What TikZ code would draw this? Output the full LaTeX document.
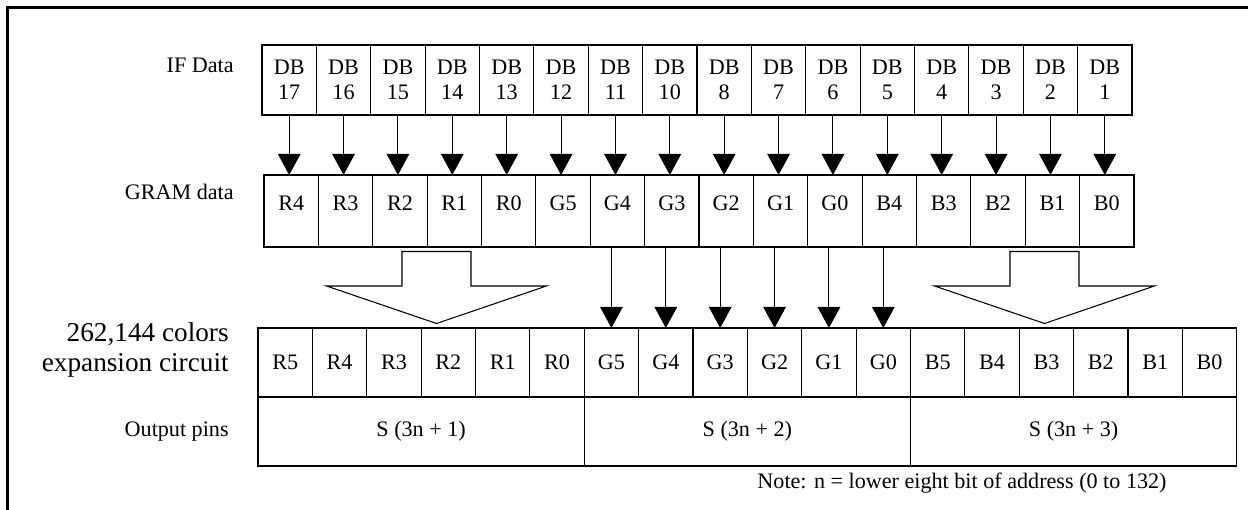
\documentclass[tikz,border=0pt]{standalone}
\usepackage{fontspec}
\setmainfont{Liberation Serif}
\usetikzlibrary{arrows.meta}

\tikzset{
    cell/.style={draw, line width=0.6pt, minimum width=1.0875cm, inner sep=0pt, outer sep=0pt,
                 align=center, font=\fontsize{12.6}{14.2}\selectfont},
    gramcell/.style={cell, minimum height=1.44cm, text height=0.3cm, text depth=0.3cm},
    bit/.style={line width=0.6pt, -{Triangle[length=0.42cm,width=0.45cm]}},
    hollow/.style={line width=0.6pt, line join=miter},
    side/.style={font=\fontsize{12.6}{14.2}\selectfont, inner sep=0pt}
}

\begin{document}
\begin{tikzpicture}[scale=1.0, every node/.style={transform shape}]
    \useasboundingbox (0,0) rectangle (24.96,10.2);
    \draw[line width=1.6pt] (0.153,0) -- (0.153,10.056) -- (24.96,10.056);

    \node[side, anchor=base east] (iflbl) at (4.68,8.74) {IF Data};
    \node[side, anchor=base east] (gramlbl) at (4.68,6.20) {GRAM data};
    \node[anchor=east, inner sep=0pt, align=right, font=\fontsize{15.5}{17.2}\selectfont] (explbl) at (4.58,3.20)
        {262,144 colors\\expansion circuit};
    \node[side, anchor=base east] (outlbl) at (4.58,1.46) {Output pins};

    \foreach \lbl [count=\i] in {17,16,15,14,13,12,11,10,8,7,6,5,4,3,2,1}
        \node[cell, minimum height=1.4cm] (if\i) at ({5.24+(\i-0.5)*1.0875},8.60) {DB\\\lbl};
    \foreach \lbl [count=\i] in {R4,R3,R2,R1,R0,G5,G4,G3,G2,G1,G0,B4,B3,B2,B1,B0}
        \node[gramcell] (gram\i) at ({5.28+(\i-0.5)*1.0875},5.98) {\lbl};
    \foreach \lbl [count=\i] in {R5,R4,R3,R2,R1,R0,G5,G4,G3,G2,G1,G0,B5,B4,B3,B2,B1,B0}
        \node[cell, minimum height=1.38cm] (exp\i) at ({5.16+(\i-0.5)*1.0875},2.95) {\lbl};
    \foreach \lbl [count=\i] in {1,2,3}
        \node[cell, minimum width=6.525cm, minimum height=1.38cm] (out\i) at ({5.16+(\i-0.5)*6.525},1.57) {S (3n + \lbl)};

    \foreach \i in {1,...,16}
        \draw[bit] (if\i.south) -- (if\i.south |- gram\i.north);
    \foreach \i in {7,...,12}
        \draw[bit] (exp\i.north |- gram1.south) -- (exp\i.north);

    \foreach \c in {8.73,20.89}
        \draw[hollow] ({\c-0.69},5.17) -- ({\c-0.69},4.48) -- ({\c-2.2},4.48) -- (\c,3.73)
            -- ({\c+2.2},4.48) -- ({\c+0.69},4.48) -- ({\c+0.69},5.17) -- cycle;

    \node[side, anchor=base] (note) at (19.24,0.42) {Note: n = lower eight bit of address (0 to 132)};
\end{tikzpicture}
\end{document}
